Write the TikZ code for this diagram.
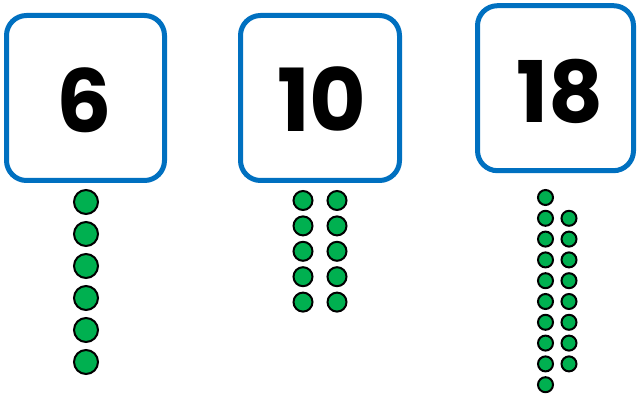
\documentclass[tikz,border=0pt]{standalone}
\usepackage{fontspec}
\setmainfont{Poppins}
\usetikzlibrary{positioning}
\definecolor{cardblue}{RGB}{0,112,192}
\definecolor{dotgreen}{RGB}{0,176,80}

\begin{document}
\begin{tikzpicture}[
  x=1pt, y=-1pt,
  card/.style={draw=cardblue, line width=5pt, rounded corners=20pt, fill=white,
               inner sep=0pt},
  num/.style={font=\fontsize{87}{87}\selectfont\bfseries, inner sep=0pt},
  dot/.style={circle, draw=black, line width=2pt, fill=dotgreen, inner sep=0pt}
]
\useasboundingbox (0,0) rectangle (637,395);

% number cards
\node[card, minimum width=158pt, minimum height=165pt] (cardsix) at (85.5,98) {};
\node[card, minimum width=159pt, minimum height=165pt] (cardten) at (320,98) {};
\node[card, minimum width=156pt, minimum height=165pt] (cardeighteen) at (555.5,88.2) {};

\node[num] (six) at (84,100) {6};
\node[num] (ten) at (322,99.5) {10};
\node[num, font=\fontsize{85}{85}\selectfont\bfseries] (eighteen) at (560,91) {18};

% six: one column
\foreach \i in {1,...,6}
  \node[dot, minimum size=24pt] (s\i) at (86,{202+32*(\i-1)}) {};

% ten: two columns of five
\foreach \i in {1,...,5} {
  \node[dot, minimum size=19pt] (ta\i) at (303,{200.5+25.4*(\i-1)}) {};
  \node[dot, minimum size=19pt] (tb\i) at (337,{200.5+25.4*(\i-1)}) {};
}

% eighteen: ten and eight
\foreach \i in {1,...,10}
  \node[dot, minimum size=15pt] (ea\i) at (545.5,{197.5+20.8*(\i-1)}) {};
\foreach \i in {2,...,9}
  \node[dot, minimum size=15pt] (eb\i) at (569,{197.5+20.8*(\i-1)}) {};
\end{tikzpicture}
\end{document}
